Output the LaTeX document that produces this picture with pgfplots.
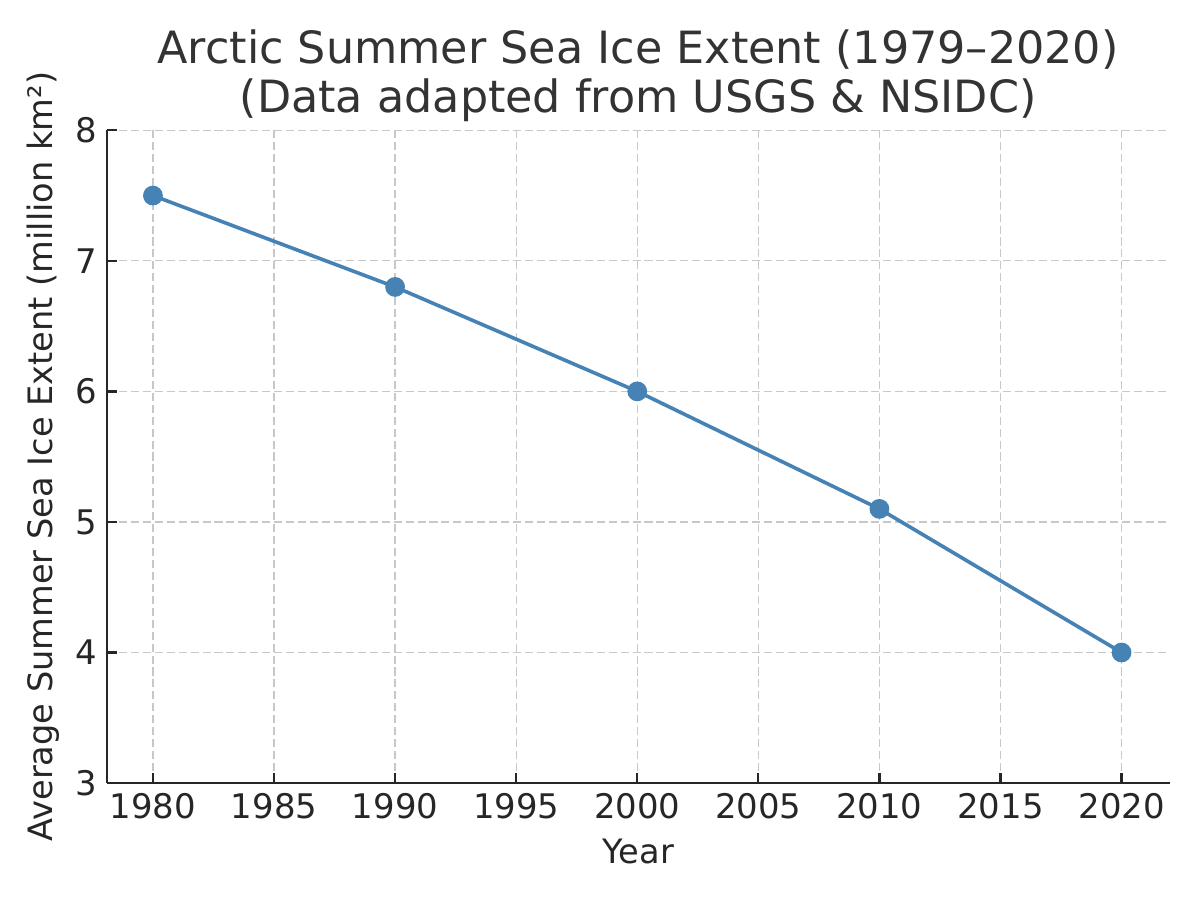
\documentclass[border=0pt]{standalone}
\usepackage{fontspec}
\setmainfont{DejaVu Sans}
\usepackage{pgfplots}
\pgfplotsset{compat=1.18}
\definecolor{linecol}{HTML}{4682B4}
\definecolor{gridcol}{HTML}{C8C8C8}
\definecolor{spinecol}{HTML}{262626}
\definecolor{titlecol}{HTML}{333333}
\begin{document}
\begin{tikzpicture}
\path[use as bounding box] (0,0) rectangle (432pt,324pt);
\begin{axis}[
  at={(38.5pt,42.1pt)}, anchor=south west,
  scale only axis, width=382.7pt, height=235pt,
  xmin=1978.1, xmax=2022.0, ymin=3, ymax=8,
  xtick={1980,1985,...,2020}, ytick={3,4,...,8},
  /pgf/number format/assume math mode=true,
  /pgf/number format/1000 sep={},
  tick label style={font=\fontsize{12.2}{14}\selectfont, text=spinecol},
  label style={font=\fontsize{12.1}{14}\selectfont, text=spinecol},
  xlabel={Year},
  ylabel={Average Summer Sea Ice Extent (million km²)},
  xlabel style={yshift=-0.5pt},
  ylabel style={yshift=-1pt},
  axis x line*=bottom, axis y line*=left,
  axis line style={spinecol, line width=1pt, -},
  tick style={spinecol, line width=0.8pt},
  tick align=inside, major tick length=3.6pt,
  grid=major,
  major grid style={gridcol, dash pattern=on 2.9pt off 1.4pt, line width=0.45pt},
  clip=false,
]
\addplot[linecol, line width=1.3pt, mark=*, mark size=2.9pt, mark options={fill=linecol, draw=linecol}]
  coordinates {(1980,7.5) (1990,6.8) (2000,6.0) (2010,5.1) (2020,4.0)};
\end{axis}
\node[text=titlecol, font=\fontsize{16}{19}\selectfont] at (229.7pt,306pt) {Arctic Summer Sea Ice Extent (1979–2020)};
\node[text=titlecol, font=\fontsize{16}{19}\selectfont] at (229.7pt,288pt) {(Data adapted from USGS \& NSIDC)};
\end{tikzpicture}
\end{document}
